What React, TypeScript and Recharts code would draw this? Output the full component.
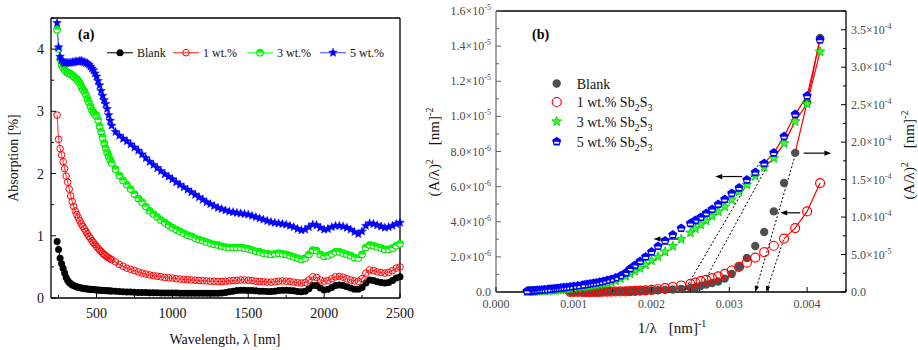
import React from "react";
import { ComposedChart, Line, XAxis, YAxis, ReferenceLine } from "recharts";

const FONT = '"Liberation Serif", "DejaVu Serif", serif';
const TS = { fontFamily: FONT };

// ---------------- Panel (a): absorption spectra ----------------
const wavelengths = [
  240, 250, 260, 270, 280, 290, 300, 310, 320, 330, 340, 350, 360, 370, 380, 390, 400, 410, 420, 430, 440, 450, 460,
  470, 480, 490, 500, 510, 520, 530, 540, 550, 560, 570, 580, 590, 600,
  625, 650, 675, 700, 725, 750, 775, 800, 825, 850, 875, 900, 925, 950, 975, 1000,
  1025, 1050, 1075, 1100, 1125, 1150, 1175, 1200, 1225, 1250, 1275, 1300, 1325, 1350, 1375, 1400, 1425, 1450, 1475, 1500,
  1525, 1550, 1575, 1600, 1625, 1650, 1675, 1700, 1725, 1750, 1775, 1800, 1825, 1850, 1875, 1900, 1925, 1950, 1975, 2000,
  2025, 2050, 2075, 2100, 2125, 2150, 2175, 2200, 2225, 2250, 2275, 2300, 2325, 2350, 2375, 2400, 2425, 2450, 2475, 2500,
];
const absBlank = [
  0.91, 0.78, 0.64, 0.55, 0.48, 0.4, 0.33, 0.28, 0.25, 0.23, 0.21, 0.2, 0.19, 0.18, 0.17, 0.165, 0.16, 0.155, 0.15, 0.148,
  0.145, 0.142, 0.14, 0.137, 0.135, 0.132, 0.13, 0.128, 0.126, 0.124, 0.122, 0.12, 0.118, 0.116, 0.115, 0.113, 0.112,
  0.11, 0.105, 0.1, 0.098, 0.095, 0.093, 0.09, 0.088, 0.087, 0.085, 0.084, 0.083, 0.082, 0.081, 0.08, 0.08,
  0.079, 0.078, 0.078, 0.077, 0.077, 0.076, 0.076, 0.075, 0.075, 0.075, 0.076, 0.078, 0.082, 0.09, 0.1, 0.11, 0.12, 0.125, 0.125, 0.122,
  0.12, 0.115, 0.11, 0.108, 0.105, 0.105, 0.11, 0.12, 0.125, 0.125, 0.12, 0.115, 0.105, 0.1, 0.11, 0.15, 0.2, 0.2, 0.16, 0.13,
  0.14, 0.17, 0.2, 0.21, 0.2, 0.18, 0.16, 0.14, 0.14, 0.17, 0.24, 0.29, 0.28, 0.26, 0.25, 0.24, 0.25, 0.28, 0.32, 0.34,
];
const abs1wt = [
  2.94, 2.55, 2.4, 2.3, 2.19, 2.08, 1.96, 1.86, 1.75, 1.64, 1.55, 1.47, 1.4, 1.34, 1.29, 1.24, 1.19, 1.15, 1.11, 1.07,
  1.03, 0.99, 0.96, 0.92, 0.89, 0.86, 0.83, 0.8, 0.77, 0.75, 0.72, 0.7, 0.68, 0.66, 0.645, 0.63, 0.615,
  0.58, 0.54, 0.51, 0.48, 0.46, 0.44, 0.42, 0.4, 0.385, 0.37, 0.36, 0.35, 0.34, 0.33, 0.325, 0.32,
  0.31, 0.305, 0.3, 0.295, 0.29, 0.285, 0.28, 0.278, 0.275, 0.27, 0.268, 0.265, 0.265, 0.268, 0.275, 0.28, 0.285, 0.29, 0.29, 0.285,
  0.28, 0.27, 0.265, 0.26, 0.255, 0.255, 0.26, 0.27, 0.275, 0.27, 0.265, 0.255, 0.245, 0.24, 0.25, 0.29, 0.34, 0.33, 0.29, 0.27,
  0.28, 0.31, 0.34, 0.345, 0.335, 0.31, 0.29, 0.275, 0.27, 0.31, 0.4, 0.45, 0.44, 0.42, 0.41, 0.4, 0.41, 0.44, 0.48, 0.5,
];
const abs3wt = [
  4.31, 4.0, 3.84, 3.75, 3.7, 3.67, 3.64, 3.62, 3.61, 3.6, 3.58, 3.56, 3.54, 3.52, 3.49, 3.45, 3.4, 3.35, 3.32, 3.27,
  3.2, 3.14, 3.08, 3.02, 2.98, 2.95, 2.93, 2.86, 2.76, 2.67, 2.58, 2.49, 2.41, 2.34, 2.28, 2.22, 2.17,
  2.07, 1.97, 1.89, 1.82, 1.75, 1.67, 1.6, 1.54, 1.47, 1.4, 1.35, 1.3, 1.25, 1.21, 1.17, 1.13,
  1.1, 1.07, 1.04, 1.01, 0.99, 0.96, 0.94, 0.92, 0.9, 0.88, 0.86, 0.85, 0.83, 0.82, 0.81, 0.81, 0.81, 0.81, 0.8, 0.79,
  0.77, 0.75, 0.74, 0.72, 0.71, 0.7, 0.71, 0.72, 0.71, 0.7, 0.68, 0.66, 0.64, 0.62, 0.64, 0.7, 0.77, 0.76, 0.7, 0.67,
  0.68, 0.71, 0.74, 0.74, 0.72, 0.7, 0.68, 0.65, 0.64, 0.7, 0.81, 0.85, 0.84, 0.82, 0.8, 0.78, 0.78, 0.8, 0.84, 0.87,
];
const abs5wt = [
  4.42, 4.03, 3.88, 3.82, 3.79, 3.78, 3.78, 3.78, 3.78, 3.78, 3.79, 3.79, 3.8, 3.8, 3.8, 3.81, 3.81, 3.8, 3.79, 3.78,
  3.77, 3.75, 3.72, 3.69, 3.66, 3.61, 3.56, 3.49, 3.42, 3.33, 3.25, 3.18, 3.12, 3.04, 2.94, 2.85, 2.77,
  2.67, 2.61, 2.56, 2.52, 2.47, 2.42, 2.37, 2.31, 2.25, 2.19, 2.14, 2.09, 2.04, 1.99, 1.95, 1.91,
  1.86, 1.82, 1.78, 1.74, 1.7, 1.66, 1.62, 1.58, 1.54, 1.51, 1.48, 1.45, 1.43, 1.41, 1.39, 1.38, 1.37, 1.36, 1.35, 1.34,
  1.32, 1.3, 1.28, 1.26, 1.24, 1.22, 1.21, 1.2, 1.19, 1.18, 1.16, 1.14, 1.11, 1.09, 1.1, 1.14, 1.18, 1.17, 1.13, 1.1,
  1.11, 1.14, 1.16, 1.16, 1.15, 1.13, 1.1, 1.06, 1.03, 1.07, 1.16, 1.2, 1.19, 1.17, 1.15, 1.13, 1.14, 1.16, 1.19, 1.21,
];
const legendA = ["Blank", "1 wt.%", "3 wt.%", "5 wt.%"];
const aXTicks = [250, 500, 750, 1000, 1250, 1500, 1750, 2000, 2250, 2500];
const aYTicks = [0, 0.5, 1, 1.5, 2, 2.5, 3, 3.5, 4, 4.5];

// ---------------- Panel (b): (A/λ)^2 vs 1/λ ----------------
const invLambda = [
  0.0041667, 0.004, 0.0038462, 0.0037037, 0.0035714, 0.0034483, 0.0033333, 0.0032258, 0.003125, 0.0030303, 0.0029412,
  0.0028571, 0.0027778, 0.0027027, 0.0026316, 0.0025641, 0.0025,
  0.002381, 0.0022727, 0.0021739, 0.0020833, 0.002, 0.0019231, 0.0018519, 0.0017857, 0.0017241, 0.0016667,
  0.0016, 0.0015385, 0.0014815, 0.0014286, 0.0013793, 0.0013333, 0.0012903, 0.00125, 0.0012121, 0.0011765, 0.0011429, 0.0011111,
  0.0010526, 0.001, 0.00095238, 0.00090909, 0.00086957, 0.00083333, 0.0008, 0.00076923, 0.00074074, 0.00071429, 0.00068966, 0.00066667,
  0.000625, 0.00058824, 0.00055556, 0.00052632, 0.0005, 0.00047619, 0.00045455, 0.00043478, 0.00041667, 0.0004,
];
// Blank is read on the left axis, the others on the right axis
const tBlank = [
  1.447e-5, 1.08e-5, 7.92e-6, 6.21e-6, 4.59e-6, 3.42e-6, 2.62e-6, 1.94e-6, 1.44e-6, 1.03e-6, 7.6e-7,
  6.0e-7, 5.1e-7, 4.3e-7, 3.5e-7, 2.7e-7, 2.3e-7,
  1.8e-7, 1.4e-7, 1.2e-7, 1.0e-7, 8.5e-8, 7.4e-8, 6.3e-8, 5.4e-8, 4.6e-8, 4.0e-8,
  3.4e-8, 2.9e-8, 2.5e-8, 2.2e-8, 2.0e-8, 1.8e-8, 1.6e-8, 1.4e-8, 1.3e-8, 1.2e-8, 1.1e-8, 1.0e-8,
  9e-9, 8e-9, 7e-9,
];
const t1wt = [
  1.453e-4, 1.075e-4, 8.53e-5, 7.13e-5, 6.17e-5, 5.31e-5, 4.6e-5, 3.91e-5, 3.35e-5, 2.87e-5, 2.43e-5,
  2.08e-5, 1.84e-5, 1.61e-5, 1.44e-5, 1.24e-5, 1.08e-5,
  8.7e-6, 6.7e-6, 5.1e-6, 3.7e-6, 2.8e-6, 2.3e-6, 1.9e-6, 1.5e-6, 1.2e-6, 9e-7,
  8e-7, 7e-7, 5e-7, 4e-7, 3.5e-7, 3e-7, 2.6e-7, 2.3e-7, 2e-7, 1.8e-7, 1.6e-7, 1.5e-7,
  1.3e-7, 1.1e-7, 1e-7,
];
const t3wt = [
  3.208e-4, 2.511e-4, 2.277e-4, 1.984e-4, 1.784e-4, 1.664e-4, 1.544e-4, 1.431e-4, 1.337e-4, 1.231e-4, 1.137e-4,
  1.071e-4, 1.011e-4, 9.51e-5, 8.97e-5, 8.44e-5, 7.91e-5,
  7.04e-5, 6.11e-5, 5.37e-5, 4.71e-5, 4.17e-5, 3.64e-5, 3.17e-5, 2.77e-5, 2.44e-5, 2.11e-5,
  1.77e-5, 1.51e-5, 1.31e-5, 1.17e-5, 1.07e-5, 9.7e-6, 8.9e-6, 8.3e-6, 7.7e-6, 7.2e-6, 6.7e-6, 6.3e-6,
  5.6e-6, 4.9e-6, 4.4e-6, 3.9e-6, 3.5e-6, 3.2e-6, 2.9e-6, 2.7e-6, 2.4e-6, 2.3e-6, 2.1e-6, 2.0e-6,
  1.7e-6, 1.5e-6, 1.2e-6, 1.1e-6, 9e-7, 8e-7, 7e-7, 6e-7, 5e-7, 5e-7,
];
const t5wt = [
  3.364e-4, 2.617e-4, 2.371e-4, 2.077e-4, 1.857e-4, 1.717e-4, 1.597e-4, 1.497e-4, 1.391e-4, 1.317e-4, 1.237e-4,
  1.171e-4, 1.104e-4, 1.051e-4, 9.97e-5, 9.57e-5, 9.17e-5,
  8.51e-5, 7.64e-5, 6.84e-5, 6.11e-5, 5.37e-5, 4.71e-5, 4.11e-5, 3.57e-5, 3.11e-5, 2.57e-5,
  2.17e-5, 1.91e-5, 1.71e-5, 1.57e-5, 1.44e-5, 1.33e-5, 1.24e-5, 1.17e-5, 1.11e-5, 1.04e-5, 9.7e-6, 9.3e-6,
  8.4e-6, 7.7e-6, 7.1e-6, 6.4e-6, 6.0e-6, 5.5e-6, 5.1e-6, 4.7e-6, 4.4e-6, 4.1e-6, 3.9e-6, 3.6e-6,
  3.2e-6, 2.8e-6, 2.5e-6, 2.3e-6, 2.0e-6, 1.7e-6, 1.6e-6, 1.5e-6, 1.3e-6, 1.2e-6,
];
const fitCounts = [3, 4, 6, 6];
const legendB = ["Blank", "1 wt.%", "3 wt.%", "5 wt.%"];
const bXTicks = [0, 0.0005, 0.001, 0.0015, 0.002, 0.0025, 0.003, 0.0035, 0.004, 0.0045];
const bXLabels = ["0.000", "0.001", "0.002", "0.003", "0.004"];
const bLeftTicks = [
  0, 1e-6, 2e-6, 3e-6, 4e-6, 5e-6, 6e-6, 7e-6, 8e-6, 9e-6, 1e-5, 1.1e-5, 1.2e-5, 1.3e-5, 1.4e-5, 1.5e-5, 1.6e-5,
];
const bLeftLabels = [
  ["0.0", ""], ["2.0", "-6"], ["4.0", "-6"], ["6.0", "-6"], ["8.0", "-6"], ["1.0", "-5"], ["1.2", "-5"], ["1.4", "-5"], ["1.6", "-5"],
];
const bRightTicks = [
  0, 2.5e-5, 5e-5, 7.5e-5, 1e-4, 1.25e-4, 1.5e-4, 1.75e-4, 2e-4, 2.25e-4, 2.5e-4, 2.75e-4, 3e-4, 3.25e-4, 3.5e-4, 3.75e-4,
];
const bRightLabels = [
  ["0.0", ""], ["5.0", "-5"], ["1.0", "-4"], ["1.5", "-4"], ["2.0", "-4"], ["2.5", "-4"], ["3.0", "-4"], ["3.5", "-4"],
];
// dotted extrapolation lines (right-axis units), arrowhead at the second point
const tangents = [
  { x1: 0.003398, y1: 1.741e-4, x2: 0.002411, y2: 0 },
  { x1: 0.003484, y1: 1.675e-4, x2: 0.002604, y2: 0 },
  { x1: 0.003848, y1: 1.831e-4, x2: 0.003333, y2: 0 },
  { x1: 0.003697, y1: 6.97e-5, x2: 0.003475, y2: 0 },
];
// axis-indicator arrows (right-axis units), arrowhead at the second point
const axisArrows = [
  { x1: 0.003166, y1: 1.541e-4, x2: 0.002819, y2: 1.541e-4 },
  { x1: 0.002368, y1: 7.07e-5, x2: 0.002024, y2: 7.07e-5 },
  { x1: 0.003955, y1: 1.853e-4, x2: 0.004311, y2: 1.853e-4 },
  { x1: 0.003912, y1: 1.057e-4, x2: 0.003655, y2: 1.057e-4 },
];

// ---------------- tables ----------------
const rowsA = wavelengths.map((wl, i) => ({
  wl,
  blank: absBlank[i],
  w1: abs1wt[i],
  w3: abs3wt[i],
  w5: abs5wt[i],
}));
const pick = (arr: number[], i: number) => (i < arr.length ? arr[i] : null);
const rowsB = invLambda.map((inv, i) => ({
  inv,
  blank: pick(tBlank, i),
  w1: pick(t1wt, i),
  w3: pick(t3wt, i),
  w5: pick(t5wt, i),
  fBlank: i < fitCounts[0] ? pick(tBlank, i) : null,
  f1: i < fitCounts[1] ? pick(t1wt, i) : null,
  f3: i < fitCounts[2] ? pick(t3wt, i) : null,
  f5: i < fitCounts[3] ? pick(t5wt, i) : null,
}));

// ---------------- marker shapes ----------------
const starPts = (cx: number, cy: number, ro: number, ri: number) => {
  let s = "";
  for (let k = 0; k < 10; k++) {
    const r = k % 2 === 0 ? ro : ri;
    const a = -Math.PI / 2 + (k * Math.PI) / 5;
    s += `${cx + r * Math.cos(a)},${cy + r * Math.sin(a)} `;
  }
  return s;
};
const pentPts = (cx: number, cy: number, r: number) => {
  let s = "";
  for (let k = 0; k < 5; k++) {
    const a = -Math.PI / 2 + (k * 2 * Math.PI) / 5;
    s += `${cx + r * Math.cos(a)},${cy + r * Math.sin(a)} `;
  }
  return s;
};

const mkA = [
  (cx: number, cy: number, k: any) => <circle key={k} cx={cx} cy={cy} r={3.5} fill="#000" />,
  (cx: number, cy: number, k: any) => (
    <circle key={k} cx={cx} cy={cy} r={3.3} fill="none" stroke="#ff0000" strokeWidth={1} />
  ),
  (cx: number, cy: number, k: any) => (
    <g key={k}>
      <circle cx={cx} cy={cy} r={3.3} fill="#fff" stroke="#00e000" strokeWidth={1.1} />
      <path d={`M${cx - 3.3},${cy} A3.3,3.3 0 0 1 ${cx + 3.3},${cy} Z`} fill="#00ff00" />
    </g>
  ),
  (cx: number, cy: number, k: any) => (
    <polygon key={k} points={starPts(cx, cy, 4.6, 2)} fill="#0000ff" stroke="#0000ff" strokeWidth={0.4} />
  ),
];
const mkB = [
  (cx: number, cy: number, k: any) => <circle key={k} cx={cx} cy={cy} r={4.2} fill="#505050" />,
  (cx: number, cy: number, k: any) => (
    <circle key={k} cx={cx} cy={cy} r={4.5} fill="none" stroke="#ff0000" strokeWidth={1.2} />
  ),
  (cx: number, cy: number, k: any) => (
    <polygon key={k} points={starPts(cx, cy, 5, 2.2)} fill="#33ff33" stroke="#00c000" strokeWidth={0.8} />
  ),
  (cx: number, cy: number, k: any) => (
    <g key={k}>
      <polygon points={pentPts(cx, cy, 4.8)} fill="#0000ff" />
      <rect x={cx - 2.4} y={cy + 0.3} width={4.8} height={1.8} fill="#fff" />
    </g>
  ),
];
const dotFn = (draw: (cx: number, cy: number, k: any) => any) => (p: any) => {
  const k = p && p.index != null ? p.index : Math.random();
  if (!p || p.cx == null || p.cy == null || p.value == null || Number.isNaN(p.cy)) return <g key={k} />;
  return draw(p.cx, p.cy, k);
};

// ---------------- ticks ----------------
const AXTick = (p: any) => {
  const { x, y, payload } = p;
  const major = payload.value % 500 === 0;
  return (
    <g>
      <line x1={x} y1={y} x2={x} y2={y - (major ? 5 : 3)} stroke="#000" strokeWidth={1} />
      {major && (
        <text x={x} y={y + 20} textAnchor="middle" style={TS} fontSize={14} fill="#111">
          {payload.value}
        </text>
      )}
    </g>
  );
};
const AYTick = (p: any) => {
  const { x, y, payload } = p;
  const major = Number.isInteger(payload.value);
  return (
    <g>
      <line x1={x} y1={y} x2={x + (major ? 5 : 3)} y2={y} stroke="#000" strokeWidth={1} />
      {major && (
        <text x={x - 7} y={y + 5} textAnchor="end" style={TS} fontSize={14} fill="#111">
          {payload.value}
        </text>
      )}
    </g>
  );
};
const GRAY = "#4a4a4a";
const Sci = ({ lab }: { lab: string[] }) => (
  <>
    {lab[0]}
    {lab[1] ? "×10" : ""}
    {lab[1] ? (
      <tspan dy={-5} fontSize={8}>
        {lab[1]}
      </tspan>
    ) : null}
  </>
);
const BXTick = (p: any) => {
  const { x, y, index } = p;
  const major = index % 2 === 0;
  return (
    <g>
      <line x1={x} y1={y} x2={x} y2={y - (major ? 5 : 3)} stroke="#000" strokeWidth={1} />
      {major && bXLabels[index / 2] && (
        <text x={x} y={y + 16} textAnchor="middle" style={TS} fontSize={12} fill={GRAY}>
          {bXLabels[index / 2]}
        </text>
      )}
    </g>
  );
};
const BLTick = (p: any) => {
  const { x, y, index } = p;
  const major = index % 2 === 0;
  const lab = bLeftLabels[index / 2];
  return (
    <g>
      <line x1={x} y1={y} x2={x + (major ? 5 : 3)} y2={y} stroke="#666" strokeWidth={1} />
      {major && lab && (
        <text x={x - 5} y={y + 4} textAnchor="end" style={TS} fontSize={12} fill={GRAY}>
          <Sci lab={lab} />
        </text>
      )}
    </g>
  );
};
const BRTick = (p: any) => {
  const { x, y, index } = p;
  const major = index % 2 === 0;
  const lab = bRightLabels[index / 2];
  return (
    <g>
      <line x1={x} y1={y} x2={x - (major ? 5 : 3)} y2={y} stroke="#000" strokeWidth={1} />
      {major && lab && (
        <text x={x + 5} y={y + 4} textAnchor="start" style={TS} fontSize={12} fill={GRAY}>
          <Sci lab={lab} />
        </text>
      )}
    </g>
  );
};

const arrowShape = (dashed: boolean) => (p: any) => {
  const { x1, y1, x2, y2 } = p;
  const dx = x2 - x1;
  const dy = y2 - y1;
  const L = Math.hypot(dx, dy) || 1;
  const ux = dx / L;
  const uy = dy / L;
  const hl = dashed ? 6 : 7;
  const hw = dashed ? 2.2 : 2.6;
  const bx = x2 - ux * hl;
  const by = y2 - uy * hl;
  const pts = `${x2},${y2} ${bx - uy * hw},${by + ux * hw} ${bx + uy * hw},${by - ux * hw}`;
  return (
    <g>
      <line
        x1={x1}
        y1={y1}
        x2={bx}
        y2={by}
        stroke="#000"
        strokeWidth={dashed ? 1 : 1.2}
        strokeDasharray={dashed ? "2 2" : undefined}
      />
      <polygon points={pts} fill="#000" />
    </g>
  );
};

const lineColorsA = ["#333333", "#ff5050", "#50ff50", "#6a6aff"];
const legendAPos = [107, 173, 247, 320];
const legendBRows = [83.5, 102, 121.5, 141.5];

export default function App() {
  return (
    <div style={{ position: "absolute", left: 0, top: 0, width: 918, height: 350, background: "#fff" }}>
      <div style={{ position: "absolute", left: 0, top: 0 }}>
        <ComposedChart width={460} height={350} data={rowsA} margin={{ top: 18, right: 60, bottom: 0, left: 0 }}>
          <XAxis
            dataKey="wl"
            type="number"
            domain={[200, 2500]}
            ticks={aXTicks}
            interval={0}
            tickSize={0}
            tickMargin={0}
            tickLine={false}
            tick={AXTick}
            height={52}
            axisLine={{ stroke: "#000", strokeWidth: 1.3 }}
          />
          <YAxis
            type="number"
            domain={[0, 4.5]}
            ticks={aYTicks}
            interval={0}
            width={51}
            tickSize={0}
            tickMargin={0}
            tickLine={false}
            tick={AYTick}
            axisLine={{ stroke: "#000", strokeWidth: 1.3 }}
          />
          <ReferenceLine y={4.5} stroke="#000" strokeWidth={1.3} ifOverflow="visible" />
          <ReferenceLine x={2500} stroke="#000" strokeWidth={1.3} ifOverflow="visible" />
          <Line dataKey="blank" stroke={lineColorsA[0]} strokeWidth={1.2} dot={dotFn(mkA[0])} isAnimationActive={false} />
          <Line dataKey="w1" stroke={lineColorsA[1]} strokeWidth={1.2} dot={dotFn(mkA[1])} isAnimationActive={false} />
          <Line dataKey="w3" stroke={lineColorsA[2]} strokeWidth={1.2} dot={dotFn(mkA[2])} isAnimationActive={false} />
          <Line dataKey="w5" stroke={lineColorsA[3]} strokeWidth={1.2} dot={dotFn(mkA[3])} isAnimationActive={false} />
        </ComposedChart>
      </div>
      <div style={{ position: "absolute", left: 400, top: 0 }}>
        <ComposedChart width={518} height={350} data={rowsB} margin={{ top: 11, right: 0, bottom: 0, left: 0 }}>
          <XAxis
            dataKey="inv"
            type="number"
            domain={[0, 0.0045]}
            ticks={bXTicks}
            interval={0}
            tickSize={0}
            tickMargin={0}
            tickLine={false}
            tick={BXTick}
            height={58}
            axisLine={{ stroke: "#000", strokeWidth: 1.5 }}
          />
          <YAxis
            yAxisId="left"
            orientation="left"
            type="number"
            domain={[0, 1.6e-5]}
            ticks={bLeftTicks}
            interval={0}
            width={96}
            tickSize={0}
            tickMargin={0}
            tickLine={false}
            tick={BLTick}
            axisLine={{ stroke: "#666", strokeWidth: 1.2 }}
          />
          <YAxis
            yAxisId="right"
            orientation="right"
            type="number"
            domain={[0, 3.75e-4]}
            ticks={bRightTicks}
            interval={0}
            width={72}
            tickSize={0}
            tickMargin={0}
            tickLine={false}
            tick={BRTick}
            axisLine={{ stroke: "#000", strokeWidth: 1.3 }}
          />
          <ReferenceLine yAxisId="right" y={3.75e-4} stroke="#000" strokeWidth={1.3} ifOverflow="visible" />
          <Line yAxisId="left" dataKey="blank" stroke="none" dot={dotFn(mkB[0])} isAnimationActive={false} />
          <Line yAxisId="right" dataKey="w1" stroke="none" dot={dotFn(mkB[1])} isAnimationActive={false} />
          <Line yAxisId="right" dataKey="w3" stroke="none" dot={dotFn(mkB[2])} isAnimationActive={false} />
          <Line yAxisId="right" dataKey="w5" stroke="none" dot={dotFn(mkB[3])} isAnimationActive={false} />
          <Line yAxisId="left" dataKey="fBlank" stroke="#ff0000" strokeWidth={1.2} dot={false} isAnimationActive={false} />
          <Line yAxisId="right" dataKey="f1" stroke="#ff0000" strokeWidth={1.2} dot={false} isAnimationActive={false} />
          <Line yAxisId="right" dataKey="f3" stroke="#ff0000" strokeWidth={1.2} dot={false} isAnimationActive={false} />
          <Line yAxisId="right" dataKey="f5" stroke="#ff0000" strokeWidth={1.2} dot={false} isAnimationActive={false} />
          {tangents.map((t, i) => (
            <ReferenceLine
              key={"t" + i}
              yAxisId="right"
              segment={[
                { x: t.x1, y: t.y1 },
                { x: t.x2, y: t.y2 },
              ]}
              ifOverflow="visible"
              shape={arrowShape(true)}
            />
          ))}
          {axisArrows.map((t, i) => (
            <ReferenceLine
              key={"a" + i}
              yAxisId="right"
              segment={[
                { x: t.x1, y: t.y1 },
                { x: t.x2, y: t.y2 },
              ]}
              ifOverflow="visible"
              shape={arrowShape(false)}
            />
          ))}
        </ComposedChart>
      </div>
      <svg
        width={918}
        height={350}
        style={{ position: "absolute", left: 0, top: 0, pointerEvents: "none", fontFamily: FONT }}
      >
        {/* panel (a) texts */}
        <text x={78} y={39} fontSize={14} fontWeight="bold" style={TS}>
          (a)
        </text>
        {legendA.map((name, i) => {
          const x0 = legendAPos[i];
          return (
            <g key={name}>
              <line x1={x0} y1={52.7} x2={x0 + 26} y2={52.7} stroke={lineColorsA[i]} strokeWidth={1.3} />
              {mkA[i](x0 + 13, 52.7, "m")}
              <text x={x0 + 30} y={57} fontSize={12} fill="#111" style={TS}>
                {name}
              </text>
            </g>
          );
        })}
        <text x={18} y={158} fontSize={14} textAnchor="middle" transform="rotate(-90 18 158)" fill="#111" style={TS}>
          Absorption [%]
        </text>
        <text x={225} y={344} fontSize={14} textAnchor="middle" fill="#111" style={TS}>
          Wavelength, λ [nm]
        </text>
        {/* panel (b) texts */}
        <text x={532} y={39} fontSize={14} fontWeight="bold" style={TS}>
          (b)
        </text>
        {legendB.map((name, i) => (
          <g key={name}>
            {mkB[i](556.7, legendBRows[i], "m")}
            <text x={576.7} y={legendBRows[i] + 5} fontSize={14} fill="#111" style={TS}>
              {name}
              {i > 0 ? (
                <>
                  {" Sb"}
                  <tspan dy={4} fontSize={10}>
                    2
                  </tspan>
                  <tspan dy={-4}>S</tspan>
                  <tspan dy={4} fontSize={10}>
                    3
                  </tspan>
                </>
              ) : null}
            </text>
          </g>
        ))}
        <text x={672} y={333} fontSize={15} textAnchor="middle" fill="#111" style={TS}>
          1/λ
          <tspan dx={12}>[nm]</tspan>
          <tspan dy={-6} fontSize={10}>
            -1
          </tspan>
        </text>
        <text x={439} y={152} fontSize={15} textAnchor="middle" transform="rotate(-90 439 152)" fill="#111" style={TS}>
          (A/λ)
          <tspan dy={-6} fontSize={10}>
            2
          </tspan>
          <tspan dy={6} dx={14}>
            [nm]
          </tspan>
          <tspan dy={-6} fontSize={10}>
            -2
          </tspan>
        </text>
        <text x={914} y={155} fontSize={15} textAnchor="middle" transform="rotate(-90 914 155)" fill="#111" style={TS}>
          (A/λ)
          <tspan dy={-6} fontSize={10}>
            2
          </tspan>
          <tspan dy={6} dx={14}>
            [nm]
          </tspan>
          <tspan dy={-6} fontSize={10}>
            -2
          </tspan>
        </text>
      </svg>
    </div>
  );
}
